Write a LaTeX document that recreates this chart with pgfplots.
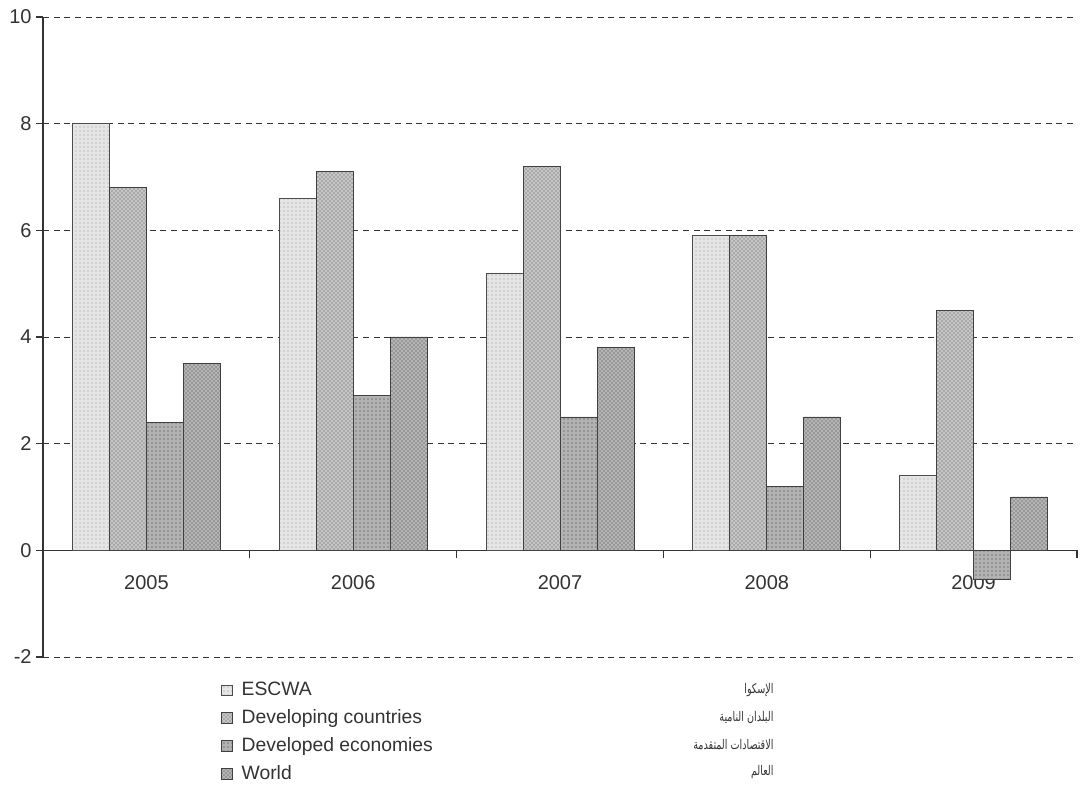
\documentclass[border=0pt]{standalone}
\usepackage{pgfplots}
\pgfplotsset{compat=1.18}
\usepackage{fontspec}
\setmainfont{Liberation Sans}
\newfontfamily\arabicfont[Script=Arabic]{DejaVu Sans}
\TeXXeTstate=1
\usetikzlibrary{patterns}
\definecolor{axisgray}{HTML}{333333}
\newcommand{\ar}[1]{\scalebox{0.72}[1]{\beginR #1\endR}}
\begin{document}
\begin{tikzpicture}
\begin{axis}[
  scale only axis, width=775.5pt, height=480pt,
  xmin=-0.5, xmax=4.5, ymin=-2, ymax=10,
  axis x line=middle, axis y line=left,
  axis line style={-, draw=axisgray, line width=0.8pt},
  ybar=0pt, bar width=27.75pt,
  xtick={0,1,2,3,4}, xticklabels={2005,2006,2007,2008,2009},
  major x tick style={draw=none},
  minor xtick={0.5,1.5,2.5,3.5,4.5},
  minor x tick style={draw=axisgray, line width=0.8pt},
  ytick={-2,0,2,4,6,8,10}, yticklabels={-2,0,2,4,6,8,10},
  y tick style={draw=axisgray, line width=0.8pt},
  tick align=outside, major tick length=5pt, minor tick length=6pt,
  ymajorgrids,
  major y grid style={dash pattern=on 4.5pt off 3.5pt, draw=axisgray, line width=0.7pt},
  tick label style={font=\fontsize{15}{17}\selectfont, text=axisgray},
  /pgf/number format/assume math mode=true,
  xticklabel style={yshift=-10pt},
  legend style={at={(rel axis cs:0.168,-0.031)}, anchor=north west, draw=none, fill=none,
    font=\fontsize{14.5}{16}\selectfont, text=axisgray, row sep=4.9pt,
    /tikz/every odd column/.append style={column sep=5pt}},
  legend cell align=left,
  legend image code/.code={\draw[#1, line width=0.5pt] (0pt,-4pt) rectangle (8pt,4pt);},
  clip=false,
]
\addplot[draw=gray!60!black, line width=0.6pt, fill=gray!20, postaction={pattern=dots, pattern color=gray!80}]
  coordinates {(0,8.0) (1,6.6) (2,5.2) (3,5.9) (4,1.4)};
\addplot[draw=gray!50!black, line width=0.6pt, fill=gray!45, postaction={pattern=crosshatch dots, pattern color=gray!60!black}]
  coordinates {(0,6.8) (1,7.1) (2,7.2) (3,5.9) (4,4.5)};
\addplot[draw=gray!50!black, line width=0.6pt, fill=gray!60, postaction={pattern=dots, pattern color=gray!45!black}]
  coordinates {(0,2.4) (1,2.9) (2,2.5) (3,1.2) (4,-0.55)};
\addplot[draw=gray!50!black, line width=0.6pt, fill=gray!58, postaction={pattern=crosshatch dots, pattern color=gray!45!black}]
  coordinates {(0,3.5) (1,4.0) (2,3.8) (3,2.5) (4,1.0)};
\legend{ESCWA, Developing countries, Developed economies, World}
\coordinate (sw) at (rel axis cs:0,0);
\node[anchor=east, font=\arabicfont\fontsize{10}{12}\selectfont, text=axisgray] at (rel axis cs:0.711,-0.0516) {\ar{الإسكوا}};
\node[anchor=east, font=\arabicfont\fontsize{10}{12}\selectfont, text=axisgray] at (rel axis cs:0.711,-0.0953) {\ar{البلدان النامية}};
\node[anchor=east, font=\arabicfont\fontsize{10}{12}\selectfont, text=axisgray] at (rel axis cs:0.711,-0.1375) {\ar{الاقتصادات المتقدمة}};
\node[anchor=east, font=\arabicfont\fontsize{10}{12}\selectfont, text=axisgray] at (rel axis cs:0.711,-0.1797) {\ar{العالم}};
\end{axis}
\path (sw) ++(-32.25pt,-100.5pt) rectangle ++(811.5pt,593.25pt);
\end{tikzpicture}
\end{document}
